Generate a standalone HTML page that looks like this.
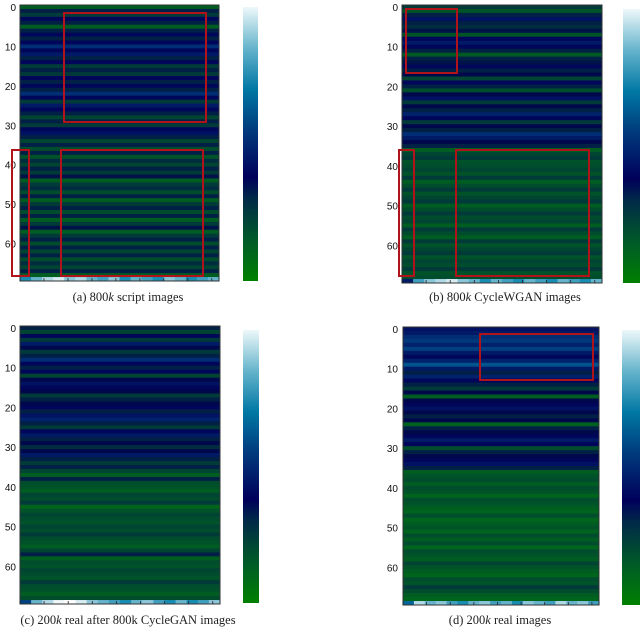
<!DOCTYPE html>
<html><head><meta charset="utf-8">
<style>
html,body{margin:0;padding:0;background:#fff;width:640px;height:627px;overflow:hidden}
svg text{font-family:"Liberation Sans",sans-serif}
.cap{font-family:"Liberation Serif",serif;font-size:12.5px;fill:#222}
</style></head>
<body>
<svg id="fig" width="640" height="627" viewBox="0 0 640 627" xmlns="http://www.w3.org/2000/svg">
<defs>
<linearGradient id="cbar" x1="0" y1="1" x2="0" y2="0">
<stop offset="0" stop-color="#008000"/>
<stop offset="0.15" stop-color="#005a28"/>
<stop offset="0.3" stop-color="#002a48"/>
<stop offset="0.38" stop-color="#00005a"/>
<stop offset="0.55" stop-color="#003a7c"/>
<stop offset="0.7" stop-color="#0078a4"/>
<stop offset="0.85" stop-color="#66b4cc"/>
<stop offset="1" stop-color="#eef8fa"/>
</linearGradient>
</defs>
</svg>
<script>
// Row values (0 = green, ~0.33 = navy, ~0.5 = blue, 1 = white), rows 0..68
const rowsA = [0.15,0.3,0.25,0.35,0.3,0.15,0.3,0.35,0.3,0.35,0.45,0.35,0.4,0.3,0.35,0.25,0.3,0.25,0.35,0.3,0.35,0.3,0.45,0.35,0.25,0.4,0.35,0.3,0.22,0.3,0.25,0.35,0.38,0.3,0.22,0.3,0.2,0.3,0.18,0.28,0.22,0.3,0.25,0.32,0.15,0.25,0.28,0.2,0.3,0.15,0.25,0.3,0.2,0.3,0.15,0.25,0.32,0.15,0.25,0.3,0.2,0.3,0.22,0.3,0.2,0.28,0.22,0.3,0.15];
const rowsB = [0.25,0.18,0.3,0.38,0.3,0.28,0.32,0.18,0.35,0.4,0.35,0.3,0.16,0.3,0.32,0.35,0.3,0.33,0.22,0.35,0.3,0.2,0.33,0.38,0.25,0.33,0.3,0.42,0.35,0.25,0.33,0.3,0.45,0.4,0.33,0.3,0.15,0.22,0.25,0.18,0.2,0.22,0.18,0.25,0.15,0.2,0.25,0.18,0.22,0.25,0.15,0.2,0.25,0.2,0.22,0.15,0.25,0.2,0.15,0.25,0.18,0.22,0.25,0.18,0.22,0.2,0.25,0.18,0.2];
const rowsC = [0.3,0.22,0.35,0.25,0.4,0.33,0.25,0.3,0.45,0.35,0.3,0.35,0.22,0.33,0.38,0.35,0.33,0.25,0.3,0.33,0.35,0.3,0.38,0.42,0.3,0.25,0.35,0.4,0.3,0.33,0.28,0.33,0.4,0.3,0.25,0.3,0.22,0.15,0.3,0.2,0.18,0.15,0.22,0.2,0.25,0.12,0.18,0.22,0.2,0.18,0.22,0.2,0.25,0.2,0.18,0.15,0.22,0.3,0.15,0.2,0.18,0.22,0.2,0.18,0.25,0.2,0.18,0.15,0.2];
const rowsD = [0.38,0.4,0.45,0.48,0.42,0.5,0.4,0.35,0.42,0.55,0.4,0.3,0.42,0.35,0.3,0.25,0.33,0.15,0.33,0.35,0.38,0.33,0.3,0.33,0.14,0.3,0.33,0.35,0.4,0.35,0.2,0.3,0.33,0.35,0.38,0.3,0.15,0.18,0.2,0.15,0.2,0.18,0.12,0.2,0.18,0.15,0.13,0.2,0.12,0.15,0.18,0.13,0.2,0.15,0.2,0.12,0.2,0.18,0.15,0.22,0.18,0.15,0.12,0.2,0.18,0.25,0.2,0.15,0.12];
// bottom strip row (row 69) column values
const stripA = [0.7,0.8,0.9,0.95,0.85,0.9,0.8,0.75,0.85,0.7,0.8,0.75,0.7,0.85,0.8,0.7,0.75,0.8];
const stripB = [0.4,0.75,0.85,0.9,0.95,0.85,0.8,0.7,0.8,0.75,0.7,0.8,0.75,0.7,0.8,0.75,0.7,0.8];
const stripC = [0.5,0.8,0.9,0.98,1.0,0.95,0.85,0.8,0.75,0.7,0.8,0.85,0.75,0.7,0.8,0.7,0.75,0.85];
const stripD = [0.6,0.9,0.8,0.85,0.75,0.7,0.8,0.85,0.75,0.8,0.7,0.85,0.8,0.75,0.9,0.8,0.85,0.75];
const yTicks = [0,10,20,30,40,50,60];

const panels = [
 {id:'a', rows:rowsA, strip:stripA, x:20, y:5, w:199, h:276, cb:[243,7,15,274], labX:16, cap:'(a) 800', capRest:' script images', capX:128, capY:301,
  boxes:[[64,13,142,109],[61,150,142,126],[12,150,17,126]]},
 {id:'b', rows:rowsB, strip:stripB, x:402, y:5, w:200, h:278, cb:[623,9,17,274], labX:398, cap:'(b) 800', capRest:' CycleWGAN images', capX:505, capY:301,
  boxes:[[406,9,51,64],[456,150,133,126],[399,150,15,126]]},
 {id:'c', rows:rowsC, strip:stripC, x:20, y:326, w:200, h:278, cb:[243,330,16,273], labX:16, cap:'(c) 200', capRest:' real after 800k CycleGAN images', capX:128, capY:624,
  boxes:[]},
 {id:'d', rows:rowsD, strip:stripD, x:403, y:327, w:196, h:278, cb:[622,330,18,275], labX:398, cap:'(d) 200', capRest:' real images', capX:500, capY:624,
  boxes:[[480,334,113,46]]}
];

function cmap(t){
  t=Math.max(0,Math.min(1,t));
  const r = t<0.667?0:(t-0.667)/0.333;
  const g = t<1/3 ? 0.52*Math.pow(1-3*t,0.6) : (3*t-1)/2;
  const b = t<1/3 ? t*0.9 : t;
  return `rgb(${Math.round(r*255)},${Math.round(g*255)},${Math.round(b*255)})`;
}
const NS='http://www.w3.org/2000/svg';
const svg=document.getElementById('fig');
function mk(tag,attrs,parent){const e=document.createElementNS(NS,tag);for(const k in attrs)e.setAttribute(k,attrs[k]);(parent||svg).appendChild(e);return e;}

panels.forEach(p=>{
  const g=mk('g',{});
  
  
  const nRows=p.rows.length+1;
  const rowH=p.h/nRows;
  const yScale=i=>p.y+i*rowH;
  p.rows.forEach((v,i)=>{
    const r=mk('rect',{x:p.x,y:yScale(i),width:p.w,height:rowH+0.6,fill:cmap(v)},g);
    
    
  });
  const cw=p.w/p.strip.length;
  p.strip.forEach((v,j)=>{
    const r=mk('rect',{x:p.x+j*cw,y:yScale(p.rows.length),width:cw+0.6,height:rowH,fill:cmap(v)},g);
    
    
  });
  const fr=mk('rect',{x:p.x,y:p.y,width:p.w,height:p.h,fill:'none',stroke:'#333','stroke-width':1},g);
  
  
  yTicks.forEach(t=>{
    const ty=yScale(t)+rowH/2;
    const tx=mk('text',{x:p.labX,y:ty+4,'text-anchor':'end','font-size':10,fill:'#111'},g);
    tx.textContent=t;
    
    
  });
  for(let k=0;k<=8;k++){
    const xx=p.x+k*p.w/8.3;
    mk('line',{x1:xx,x2:xx,y1:p.y+p.h,y2:p.y+p.h-3,stroke:'#222','stroke-width':0.8},g);
  }
  p.boxes.forEach(b=>{
    const r=mk('rect',{x:b[0],y:b[1],width:b[2],height:b[3],fill:'none',stroke:'#b0141a','stroke-width':2},g);
    
    
  });
  const cb=mk('rect',{x:p.cb[0],y:p.cb[1],width:p.cb[2],height:p.cb[3],fill:'url(#cbar)'},g);
  
  
  const cap=mk('text',{x:p.capX,y:p.capY,'text-anchor':'middle',class:'cap'},g);
  
  
  cap.appendChild(document.createTextNode(p.cap));
  const k=mk('tspan',{'font-style':'italic'},cap);k.textContent='k';
  cap.appendChild(document.createTextNode(p.capRest));
});
</script>
</body></html>
